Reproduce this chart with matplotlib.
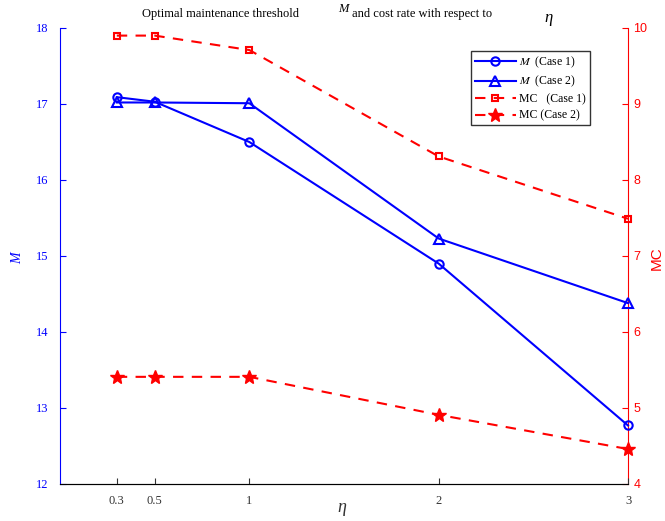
import matplotlib.pyplot as plt

eta = [0.3, 0.5, 1, 2, 3]
m_case1 = [17.09, 17.03, 16.50, 14.90, 12.77]
m_case2 = [17.02, 17.02, 17.01, 15.23, 14.38]
mc_case1 = [9.90, 9.90, 9.71, 8.31, 7.49]
mc_case2 = [5.41, 5.41, 5.41, 4.91, 4.46]
x_ticks = [0.3, 0.5, 1, 2, 3]

serif = 'Liberation Serif'
sans = 'Liberation Sans'
plt.rcParams['mathtext.fontset'] = 'stix'

fig = plt.figure(figsize=(6.65, 5.21), dpi=100)
ax = fig.add_axes([60 / 665, 37 / 521, 568 / 665, 456 / 521])
ax2 = ax.twinx()
ax.set_zorder(1)
ax.patch.set_visible(False)

l1, = ax.plot(eta, m_case1, '-o', color='blue', lw=1.5, ms=6, mfc='none', mew=1.5, clip_on=False)
l2, = ax.plot(eta, m_case2, '-^', color='blue', lw=1.5, ms=7, mfc='none', mew=1.5, clip_on=False)
l3, = ax2.plot(eta, mc_case1, '--s', color='red', lw=1.5, ms=5, mfc='none', mew=1.5,
               dashes=(5, 4), clip_on=False)
l4, = ax2.plot(eta, mc_case2, '--*', color='red', lw=1.5, ms=10, dashes=(5, 4), clip_on=False)

ax.set_xlim(0, 3)
ax.set_ylim(12, 18)
ax2.set_ylim(4, 10)
ax.set_xticks(x_ticks)
ax.set_xticklabels(['0.3', '0.5', '1', '2', '3'], family=serif, fontsize=9, color='#333333')
ax.set_yticks(range(12, 19))
ax.set_yticklabels([str(v) for v in range(12, 19)], family=serif, fontsize=9, color='blue')
ax2.set_yticks(range(4, 11))
ax2.set_yticklabels([str(v) for v in range(4, 11)], family=sans, fontsize=9, color='red')

ax.tick_params(direction='in', length=4, pad=8)
ax.tick_params(axis='y', colors='blue', labelcolor='blue')
ax.tick_params(axis='x', colors='#333333')
ax2.tick_params(direction='in', length=4, pad=4, colors='red')

for a in (ax, ax2):
    a.spines['top'].set_visible(False)
ax.spines['left'].set_color('blue')
ax.spines['right'].set_visible(False)
ax2.spines['left'].set_visible(False)
ax2.spines['right'].set_color('red')
ax2.spines['bottom'].set_color('#333333')

ax.set_ylabel('M', family=serif, style='italic', fontsize=10, color='blue')
ax.yaxis.set_label_coords((24 - 60) / 568, 0.496)
ax2.set_ylabel('MC', family=sans, fontsize=11, color='red')
ax2.yaxis.set_label_coords((650 - 60) / 568, 0.496)
ax.set_xlabel('η', family=serif, style='italic', fontsize=13, color='#333333')
ax.xaxis.set_label_coords((342 - 60) / 568, (484 - 499) / 456)

fig.text(220 / 665, 1 - 14 / 521, 'Optimal maintenance threshold', family=serif, fontsize=9,
         ha='center', va='center')
fig.text(343 / 665, 1 - 9 / 521, 'M', family=serif, style='italic', fontsize=9,
         ha='center', va='center')
fig.text(422 / 665, 1 - 14 / 521, 'and cost rate with respect to', family=serif, fontsize=9,
         ha='center', va='center')
fig.text(549 / 665, 1 - 18 / 521, 'η', family=serif, style='italic', fontsize=12,
         ha='center', va='center')

leg = ax.legend([l1, l2, l3, l4],
                ['$M$  (Case 1)', '$M$  (Case 2)', 'MC   (Case 1)', 'MC (Case 2)'],
                loc='upper left', bbox_to_anchor=((471 - 60) / 568, (484 - 51) / 456),
                prop={'family': serif, 'size': 8.5}, fancybox=False, edgecolor='#333333',
                framealpha=1, handlelength=3.5, borderpad=0.3, labelspacing=0.35,
                handletextpad=0.3, borderaxespad=0)
leg.get_frame().set_linewidth(1)

fig.savefig('out.png', dpi=100)
